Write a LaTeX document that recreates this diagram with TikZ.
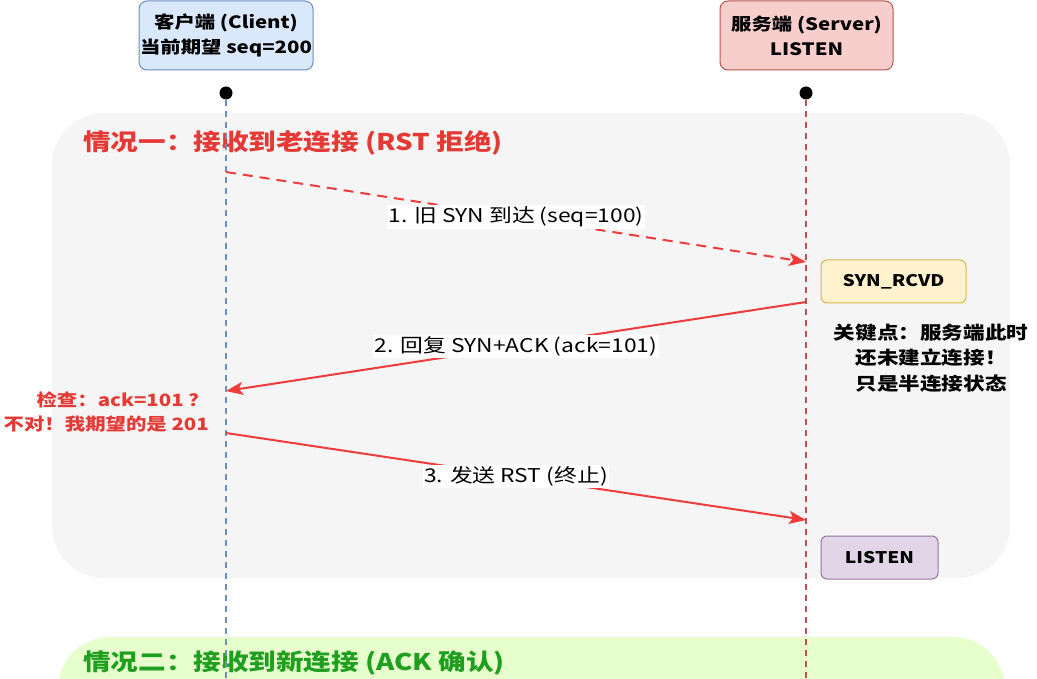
\documentclass[tikz,border=0pt]{standalone}
\usepackage{fontspec}
\setmainfont{Noto Sans CJK SC}[FakeStretch=1.2]
\usetikzlibrary{arrows.meta}
\definecolor{cbluef}{HTML}{DAE8FC}
\definecolor{cblued}{HTML}{6C8EBF}
\definecolor{sredf}{HTML}{F8CECC}
\definecolor{sredd}{HTML}{B85450}
\definecolor{yelf}{HTML}{FFF2CC}
\definecolor{yeld}{HTML}{D6B656}
\definecolor{purf}{HTML}{E1D5E7}
\definecolor{purd}{HTML}{9673A6}
\definecolor{panelgray}{HTML}{F5F5F5}
\definecolor{panelgreen}{HTML}{E6FFCC}
\definecolor{arrred}{HTML}{EE3B3B}
\definecolor{txtred}{HTML}{E53935}
\definecolor{txtgreen}{HTML}{1F9E1F}
\tikzset{
  hdr/.style={draw, line width=1pt, rounded corners=8pt, align=center, inner sep=0pt,
    font=\fontsize{17}{25}\selectfont\bfseries, minimum height=69pt},
  dot/.style={circle, fill=black, inner sep=0pt, minimum size=13pt},
  cline/.style={line width=1.5pt, dash pattern=on 6pt off 5pt},
  panel/.style={rounded corners=52pt, inner sep=0pt},
  ptitle/.style={anchor=west, inner sep=0pt, font=\fontsize{23}{26}\selectfont\bfseries},
  msg/.style={draw=arrred, line width=2pt, -{Stealth[length=17pt,width=13pt,inset=4pt]}},
  lbl/.style={fill=white, inner sep=1.5pt, text=black, font=\fontsize{19}{22}\selectfont},
  state/.style={draw, line width=1pt, rounded corners=6pt, inner sep=0pt, minimum height=43pt,
    font=\fontsize{16}{18}\selectfont\bfseries},
  note/.style={align=center, inner sep=0pt, font=\fontsize{18}{25.5}\selectfont\bfseries},
  rnote/.style={align=right, inner sep=0pt, text=txtred, font=\fontsize{17}{24}\selectfont\bfseries}
}
\begin{document}
\begin{tikzpicture}[x=1pt,y=-1pt]
\useasboundingbox (0,0) rectangle (1037,679);
% panels
\node[panel, fill=panelgray, minimum width=958pt, minimum height=465pt] (case1) at (531,345.5) {};
\node[panel, fill=panelgreen, minimum width=947pt, minimum height=140pt] (case2) at (531.5,707) {};
\node[ptitle, text=txtred] (t1) at (83,143) {情况一：接收到老连接 (RST 拒绝)};
\node[ptitle, text=txtgreen] (t2) at (83,663) {情况二：接收到新连接 (ACK 确认)};
% participants
\node[hdr, fill=cbluef, draw=cblued, minimum width=174pt] (client) at (226,35.5) {客户端 (Client)\\当前期望 seq=200};
\node[hdr, fill=sredf, draw=sredd, minimum width=173pt] (server) at (806.5,35.5) {服务端 (Server)\\LISTEN};
\node[dot] (cdot) at (226,93) {};
\node[dot] (sdot) at (806,93) {};
\coordinate (cend) at (226,690);
\coordinate (send) at (806,690);
\draw[cline, draw=cblued] (cdot) -- (cend);
\draw[cline, draw=sredd] (sdot) -- (send);
% messages
\coordinate (m1s) at (226,172);
\coordinate (m1e) at (806,262);
\coordinate (m2s) at (806,302);
\coordinate (m2e) at (226,391);
\coordinate (m3s) at (226,433);
\coordinate (m3e) at (806,520);
\draw[msg, dash pattern=on 10pt off 7pt] (m1s) -- node[lbl] (l1) {1. 旧 SYN 到达 (seq=100)} (m1e);
\draw[msg] (m2s) -- node[lbl] (l2) {2. 回复 SYN+ACK (ack=101)} (m2e);
\draw[msg] (m3s) -- node[lbl] (l3) {3. 发送 RST (终止)} (m3e);
% states
\node[state, fill=yelf, draw=yeld, minimum width=145pt] (synrcvd) at (893.5,281.5) {SYN\_RCVD};
\node[state, fill=purf, draw=purd, minimum width=117pt] (listen) at (879.5,557.5) {LISTEN};
% notes
\node[note] (key) at (931,358) {关键点：服务端此时\\还未建立连接！\\只是半连接状态};
\node[rnote, anchor=east] (check) at (209,412) {检查：ack=101 ？\\不对！我期望的是 201};
\end{tikzpicture}
\end{document}
